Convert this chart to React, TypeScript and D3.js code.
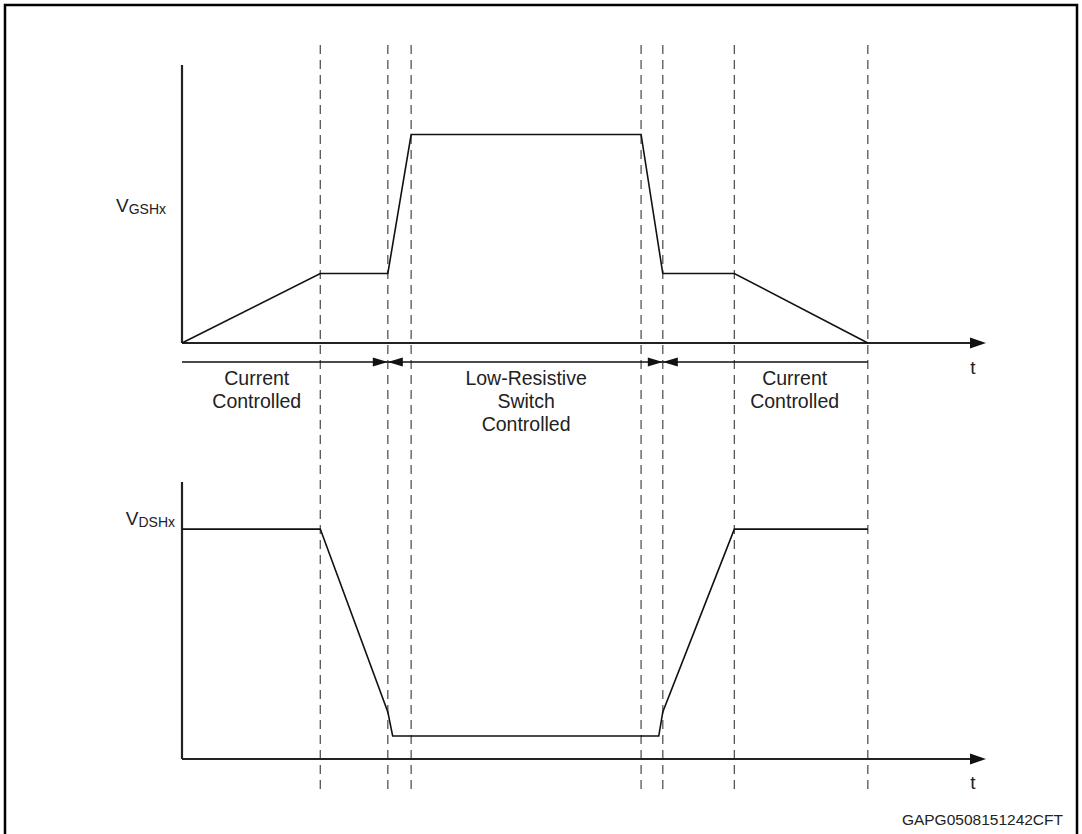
import React from "react";
import * as d3 from "d3";

// time breakpoints (arbitrary units, 0..100 along the t axis)
const markerTimes = [17.2, 25.6, 28.5, 57.1, 59.8, 68.7, 85.3];

// gate-source voltage waveform (normalised)
const vgsTimes = [0, 17.2, 25.6, 28.5, 57.1, 59.8, 68.7, 85.3];
const vgsValues = [0, 0.25, 0.25, 0.75, 0.75, 0.25, 0.25, 0];

// drain-source voltage waveform (normalised)
const vdsTimes = [0, 17.2, 25.6, 26.2, 59.3, 59.8, 68.7, 85.3];
const vdsValues = [0.83, 0.83, 0.17, 0.083, 0.083, 0.17, 0.83, 0.83];

// control phases
const phaseStart = [0, 25.6, 59.8];
const phaseEnd = [25.6, 59.8, 85.3];
const phaseArrowStart = [false, true, true];
const phaseArrowEnd = [true, true, false];
const phaseLabelAt = [9.3, 42.8, 76.2];
const phaseLabels = [
  ["Current", "Controlled"],
  ["Low-Resistive", "Switch", "Controlled"],
  ["Current", "Controlled"],
];

const FONT = "'Liberation Sans', Arial, sans-serif";

export default function App() {
  const width = 1082;
  const height = 834;

  const x = d3.scaleLinear().domain([0, 100]).range([182, 986]);
  const yTop = d3.scaleLinear().domain([0, 1]).range([343, 65]);
  const yBot = d3.scaleLinear().domain([0, 1]).range([759, 482]);

  const vgsLine = d3
    .line<number>()
    .x((_, i) => x(vgsTimes[i]))
    .y((d) => yTop(d));
  const vdsLine = d3
    .line<number>()
    .x((_, i) => x(vdsTimes[i]))
    .y((d) => yBot(d));

  const arrowY = 362;

  // filled triangle pointing in dir (+1 right, -1 left) with tip at (tx, ty)
  const tri = (tx: number, ty: number, dir: number, len: number, half: number) =>
    `M${tx},${ty}L${tx - dir * len},${ty - half}L${tx - dir * len},${ty + half}Z`;

  const axis = (y0: number, yScale: d3.ScaleLinear<number, number>) => (
    <g>
      <line x1={x(0)} x2={x(0)} y1={yScale(1)} y2={y0} stroke="#222" strokeWidth={2.2} />
      <line x1={x(0)} x2={x(100) - 10} y1={y0} y2={y0} stroke="#222" strokeWidth={2.2} />
      <path d={tri(x(100), y0, 1, 16, 5.5)} fill="#111" />
    </g>
  );

  return (
    <svg
      width={width}
      height={height}
      style={{ position: "absolute", left: 0, top: 0, background: "#fff" }}
      fontFamily={FONT}
    >
      <rect x={5} y={5} width={1072} height={860} fill="none" stroke="#000" strokeWidth={2.5} />

      {/* dashed phase markers */}
      {markerTimes.map((t, i) => (
        <line
          key={i}
          x1={x(t)}
          x2={x(t)}
          y1={45}
          y2={792}
          stroke="#555"
          strokeWidth={1.3}
          strokeDasharray="9,6"
        />
      ))}

      {/* top chart */}
      {axis(yTop(0), yTop)}
      <path d={vgsLine(vgsValues) || ""} fill="none" stroke="#111" strokeWidth={1.6} />
      <text x={166} y={yTop(0.47)} textAnchor="end" fill="#222">
        <tspan fontSize={19}>V</tspan>
        <tspan fontSize={14} dy={2}>GSHx</tspan>
      </text>
      <text x={973} y={374} fontSize={19} textAnchor="middle" fill="#222">t</text>

      {/* phase arrows */}
      {phaseStart.map((s, i) => {
        const x0 = x(s);
        const x1 = x(phaseEnd[i]);
        return (
          <g key={i}>
            <line x1={x0} x2={x1} y1={arrowY} y2={arrowY} stroke="#111" strokeWidth={1.3} />
            {phaseArrowStart[i] && <path d={tri(x0, arrowY, -1, 15, 4.5)} fill="#111" />}
            {phaseArrowEnd[i] && <path d={tri(x1, arrowY, 1, 15, 4.5)} fill="#111" />}
            <text x={x(phaseLabelAt[i])} y={385} fontSize={19.5} textAnchor="middle" fill="#222">
              {phaseLabels[i].map((l, j) => (
                <tspan key={j} x={x(phaseLabelAt[i])} dy={j === 0 ? 0 : 23}>
                  {l}
                </tspan>
              ))}
            </text>
          </g>
        );
      })}

      {/* bottom chart */}
      {axis(yBot(0), yBot)}
      <path d={vdsLine(vdsValues) || ""} fill="none" stroke="#111" strokeWidth={1.6} />
      <text x={175} y={yBot(0.845)} textAnchor="end" fill="#222">
        <tspan fontSize={19}>V</tspan>
        <tspan fontSize={14} dy={2}>DSHx</tspan>
      </text>
      <text x={973} y={789} fontSize={19} textAnchor="middle" fill="#222">t</text>

      <text x={1063} y={825} fontSize={15.5} textAnchor="end" fill="#222">
        GAPG0508151242CFT
      </text>
    </svg>
  );
}
